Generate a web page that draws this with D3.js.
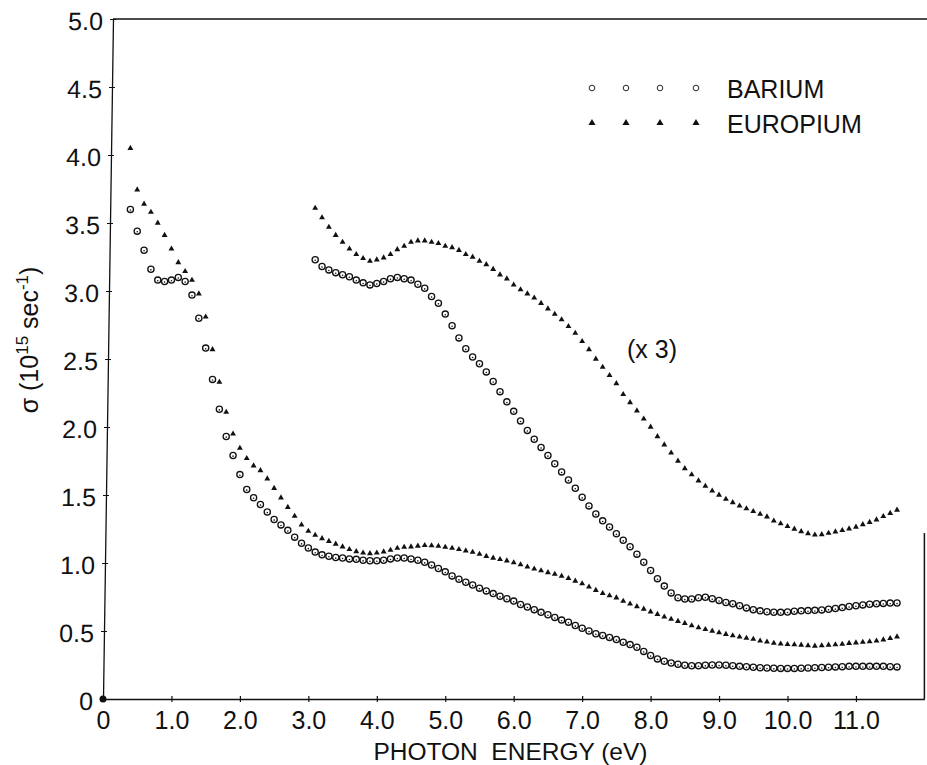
<!DOCTYPE html>
<html>
<head>
<meta charset="utf-8">
<script src="https://cdn.jsdelivr.net/npm/d3@7"></script>
<style>
  html, body { margin: 0; padding: 0; background: #fff; }
  svg { display: block; }
  text { font-family: "Liberation Sans", Arial, sans-serif; fill: #111; }
</style>
</head>
<body>
<svg id="chart"></svg>
<script>
// measured at 0.1 eV steps
const mainEnergy = d3.range(4, 117).map(i => i / 10);   // 0.4 .. 11.6 eV
const scaledEnergy = d3.range(31, 117).map(i => i / 10); // 3.1 .. 11.6 eV

const bariumMain = [
  3.60, 3.44, 3.30, 3.16, 3.08, 3.07, 3.08,
  3.10, 3.07, 2.97, 2.80, 2.58, 2.35, 2.13, 1.93, 1.79, 1.65,
  1.54, 1.48, 1.43, 1.375, 1.32, 1.28, 1.24, 1.19, 1.145, 1.11,
  1.08, 1.06, 1.05, 1.04, 1.037, 1.03, 1.027, 1.02, 1.017, 1.017,
  1.02, 1.03, 1.037, 1.037, 1.03, 1.02, 1.005, 0.985, 0.96, 0.935,
  0.905, 0.88, 0.858, 0.838, 0.815, 0.795, 0.775, 0.755, 0.737, 0.72,
  0.695, 0.677, 0.657, 0.637, 0.62, 0.60, 0.58, 0.565, 0.54, 0.52,
  0.50, 0.48, 0.467, 0.453, 0.437, 0.417, 0.40, 0.38, 0.35, 0.32,
  0.295, 0.278, 0.265, 0.255, 0.248, 0.245, 0.245, 0.248, 0.25, 0.25,
  0.248, 0.245, 0.24, 0.237, 0.233, 0.23, 0.228, 0.226, 0.225, 0.225,
  0.225, 0.226, 0.228, 0.23, 0.232, 0.234, 0.236, 0.238, 0.24, 0.24,
  0.24, 0.24, 0.24, 0.24, 0.238, 0.236
];

const europiumMain = [
  4.05, 3.745, 3.64, 3.58, 3.50, 3.41, 3.31,
  3.21, 3.145, 3.08, 2.98, 2.81, 2.57, 2.33, 2.11, 1.95, 1.845,
  1.77, 1.715, 1.68, 1.62, 1.55, 1.48, 1.41, 1.345, 1.28, 1.235,
  1.205, 1.18, 1.16, 1.14, 1.12, 1.10, 1.085, 1.075, 1.07, 1.075,
  1.083, 1.095, 1.11, 1.117, 1.12, 1.125, 1.13, 1.128, 1.124, 1.117,
  1.11, 1.10, 1.09, 1.08, 1.065, 1.05, 1.037, 1.027, 1.017, 1.003,
  0.988, 0.972, 0.957, 0.944, 0.93, 0.918, 0.904, 0.887, 0.868, 0.848,
  0.825, 0.80, 0.777, 0.76, 0.745, 0.72, 0.70, 0.68, 0.662, 0.642,
  0.623, 0.604, 0.587, 0.572, 0.557, 0.54, 0.525, 0.512, 0.50, 0.488,
  0.476, 0.466, 0.457, 0.448, 0.44, 0.428, 0.42, 0.411, 0.406, 0.402,
  0.40, 0.397, 0.393, 0.39, 0.393, 0.397, 0.40, 0.404, 0.41, 0.414,
  0.418, 0.422, 0.428, 0.436, 0.446, 0.458
];

// the (x 3) curves
const bariumScaled = [
  3.23, 3.18, 3.155, 3.135, 3.12, 3.105, 3.08, 3.06, 3.045, 3.055,
  3.07, 3.09, 3.10, 3.09, 3.08, 3.05, 3.02, 2.96, 2.91, 2.83,
  2.745, 2.655, 2.575, 2.515, 2.465, 2.405, 2.335, 2.26, 2.185, 2.115,
  2.045, 1.975, 1.91, 1.85, 1.79, 1.73, 1.67, 1.61, 1.55, 1.483,
  1.42, 1.36, 1.31, 1.265, 1.215, 1.167, 1.12, 1.065, 1.005, 0.945,
  0.885, 0.83, 0.78, 0.745, 0.735, 0.735, 0.745, 0.748, 0.738, 0.725,
  0.71, 0.70, 0.686, 0.67, 0.657, 0.648, 0.642, 0.638, 0.637, 0.64,
  0.645, 0.648, 0.65, 0.652, 0.655, 0.66, 0.665, 0.672, 0.68, 0.686,
  0.692, 0.697, 0.70, 0.703, 0.705, 0.706
];

const europiumScaled = [
  3.61, 3.54, 3.47, 3.41, 3.36, 3.31, 3.27, 3.24, 3.22, 3.23,
  3.245, 3.27, 3.305, 3.33, 3.36, 3.37, 3.37, 3.36, 3.35, 3.33,
  3.32, 3.30, 3.27, 3.25, 3.22, 3.195, 3.16, 3.12, 3.09, 3.045,
  3.01, 2.98, 2.95, 2.91, 2.87, 2.83, 2.79, 2.74, 2.69, 2.63,
  2.57, 2.50, 2.44, 2.38, 2.32, 2.24, 2.18, 2.12, 2.06, 2.00,
  1.93, 1.87, 1.81, 1.75, 1.695, 1.65, 1.605, 1.565, 1.53, 1.50,
  1.47, 1.445, 1.42, 1.40, 1.38, 1.36, 1.34, 1.31, 1.29, 1.27,
  1.25, 1.232, 1.217, 1.207, 1.21, 1.22, 1.23, 1.24, 1.252, 1.265,
  1.283, 1.30, 1.318, 1.343, 1.366, 1.39
];

const xTicks = [0, 1, 2, 3, 4, 5, 6, 7, 8, 9, 10, 11];
const xTickLabels = ["0", "1.0", "2.0", "3.0", "4.0", "5.0", "6.0", "7.0", "8.0", "9.0", "10.0", "11.0"];
const yTicks = [0, 0.5, 1, 1.5, 2, 2.5, 3, 3.5, 4, 4.5, 5];
const yTickLabels = ["0", "0.5", "1.0", "1.5", "2.0", "2.5", "3.0", "3.5", "4.0", "4.5", "5.0"];

const legendItems = ["BARIUM", "EUROPIUM"];

document.addEventListener("DOMContentLoaded", function() {
   const width = 927;
   const height = 765;
   const margin = { top: 19, right: 2.6, bottom: 66, left: 103 };
   const ink = "#111";
   const fontSize = 25;

   const svg = d3.select("#chart")
       .attr("width", width)
       .attr("height", height);

   const x = d3.scaleLinear()
       .domain([0, 12])
       .range([margin.left, width - margin.right]);

   const y = d3.scaleLinear()
       .domain([0, 5])
       .range([height - margin.bottom, margin.top]);

   // frame: top line and the short piece of right edge
   svg.append("line")
       .attr("x1", x(0) + 10).attr("x2", width)
       .attr("y1", y(5)).attr("y2", y(5))
       .attr("stroke", ink).attr("stroke-width", 1.3);
   svg.append("line")
       .attr("x1", x(12)).attr("x2", x(12))
       .attr("y1", y(1.22)).attr("y2", y(0))
       .attr("stroke", ink).attr("stroke-width", 1.5);

   // x axis
   const xAxis = svg.append("g")
       .attr("transform", `translate(0,${y(0)})`)
       .call(d3.axisBottom(x)
           .tickValues(xTicks)
           .tickFormat((d, i) => xTickLabels[i])
           .tickSize(3)
           .tickSizeOuter(0));
   xAxis.select(".domain").attr("stroke", ink).attr("stroke-width", 1.3);
   xAxis.selectAll(".tick line").attr("y1", -3).attr("stroke", ink).attr("stroke-width", 1.2);
   xAxis.selectAll(".tick text")
       .attr("y", 30).attr("dy", 0)
       .attr("font-size", fontSize)
       .attr("font-family", "Liberation Sans, Arial, sans-serif")
       .attr("fill", ink);

   // y axis, the scanned axis leans slightly
   const lean = 10 / (y(0) - y(5));
   const yAxis = svg.append("g")
       .attr("transform", `translate(${x(0) + lean * y(0)},0) skewX(${-Math.atan(lean) * 180 / Math.PI})`)
       .call(d3.axisLeft(y)
           .tickValues(yTicks)
           .tickFormat((d, i) => yTickLabels[i])
           .tickSize(3)
           .tickSizeOuter(0));
   yAxis.select(".domain").attr("stroke", ink).attr("stroke-width", 1.3);
   yAxis.selectAll(".tick line").attr("x1", 3).attr("stroke", ink).attr("stroke-width", 1.2);
   yAxis.selectAll(".tick text")
       .attr("x", -10).attr("dy", "0.4em")
       .attr("font-size", fontSize)
       .attr("font-family", "Liberation Sans, Arial, sans-serif")
       .attr("fill", ink);

   svg.append("circle")
       .attr("cx", x(0)).attr("cy", y(0)).attr("r", 3.5)
       .attr("fill", ink);

   // axis titles
   svg.append("text")
       .attr("x", x(3.95)).attr("y", y(0) + 61)
       .attr("font-size", 24.5)
       .attr("xml:space", "preserve")
       .text("PHOTON  ENERGY (eV)");

   const yTitle = svg.append("text")
       .attr("transform", `translate(38,${y(2.64)}) rotate(-90)`)
       .attr("text-anchor", "middle")
       .attr("font-size", fontSize);
   yTitle.append("tspan").text("σ (10");
   yTitle.append("tspan").attr("font-size", 17).attr("dy", -10).text("15");
   yTitle.append("tspan").attr("dy", 10).text(" sec");
   yTitle.append("tspan").attr("font-size", 17).attr("dy", -10).text("-1");
   yTitle.append("tspan").attr("dy", 10).text(")");

   // marks
   const triangle = d3.symbol().type(d3.symbolTriangle).size(15);

   function drawCircles(energy, values) {
       const pts = energy.map((e, i) => ({ e: e, v: values[i] }));
       const g = svg.append("g");
       g.selectAll("circle.ring")
           .data(pts)
           .join("circle")
           .attr("class", "ring")
           .attr("cx", d => x(d.e))
           .attr("cy", d => y(d.v))
           .attr("r", 3.1)
           .attr("fill", "#fff")
           .attr("stroke", ink)
           .attr("stroke-width", 1.3);
       g.selectAll("circle.pip")
           .data(pts)
           .join("circle")
           .attr("class", "pip")
           .attr("cx", d => x(d.e))
           .attr("cy", d => y(d.v) + 0.6)
           .attr("r", 0.8)
           .attr("fill", ink);
   }

   function drawTriangles(energy, values) {
       svg.append("g")
           .selectAll("path")
           .data(energy.map((e, i) => ({ e: e, v: values[i] })))
           .join("path")
           .attr("d", triangle)
           .attr("transform", d => `translate(${x(d.e)},${y(d.v)})`)
           .attr("fill", ink);
   }

   drawCircles(mainEnergy, bariumMain);
   drawTriangles(mainEnergy, europiumMain);
   drawCircles(scaledEnergy, bariumScaled);
   drawTriangles(scaledEnergy, europiumScaled);

   svg.append("text")
       .attr("x", 627).attr("y", 358)
       .attr("font-size", fontSize)
       .text("(x 3)");

   // legend
   const legendX = [592, 626, 660, 696];
   const legendY = [88, 123];
   const legend = svg.append("g");
   legend.selectAll("circle")
       .data(legendX)
       .join("circle")
       .attr("cx", d => d).attr("cy", legendY[0])
       .attr("r", 2.8)
       .attr("fill", "none")
       .attr("stroke", ink)
       .attr("stroke-width", 0.9);
   legend.selectAll("path")
       .data(legendX)
       .join("path")
       .attr("d", d3.symbol().type(d3.symbolTriangle).size(22))
       .attr("transform", d => `translate(${d},${legendY[1]})`)
       .attr("fill", ink);
   legend.selectAll("text")
       .data(legendItems)
       .join("text")
       .attr("x", 727)
       .attr("y", (d, i) => legendY[i] + 9.5)
       .attr("font-size", fontSize)
       .text(d => d);
});
</script>
</body>
</html>
